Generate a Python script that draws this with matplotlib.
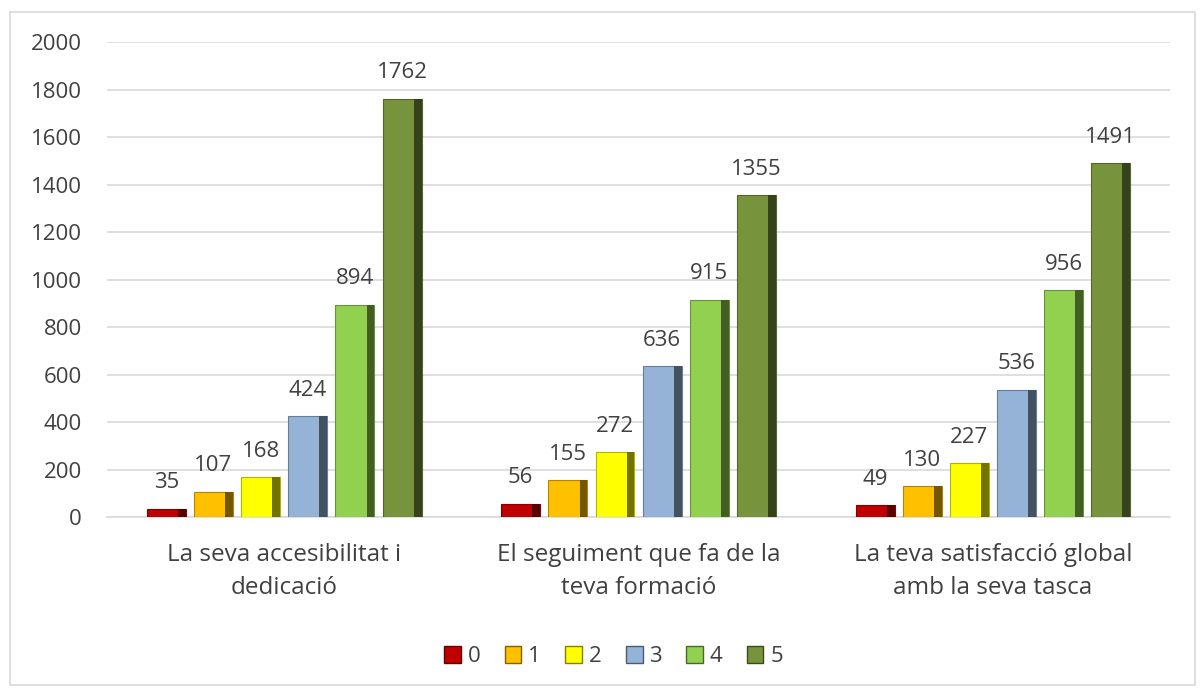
import numpy as np
import matplotlib.pyplot as plt
from matplotlib.patches import Patch, Rectangle
from matplotlib.colors import to_rgb

# Categories and scores (0-5) per question
categories = ["La seva accesibilitat i\ndedicació",
              "El seguiment que fa de la\nteva formació",
              "La teva satisfacció global\namb la seva tasca"]
series_names = ["0", "1", "2", "3", "4", "5"]
score_0 = [35, 56, 49]
score_1 = [107, 155, 130]
score_2 = [168, 272, 227]
score_3 = [424, 636, 536]
score_4 = [894, 915, 956]
score_5 = [1762, 1355, 1491]
y_ticks = [0, 200, 400, 600, 800, 1000, 1200, 1400, 1600, 1800, 2000]

series = [score_0, score_1, score_2, score_3, score_4, score_5]
colors = ["#C00000", "#FFC000", "#FFFF00", "#95B3D7", "#92D050", "#77933C"]
text_color = "#404040"

plt.rcParams['font.family'] = ['Open Sans', 'DejaVu Sans']

fig = plt.figure(figsize=(12.03, 6.9), dpi=100)
ax = fig.add_axes([0.089, 0.2507, 0.8836, 0.6884])

# outer light frame like the spreadsheet chart area
fig.patches.append(Rectangle((0.008, 0.007), 0.985, 0.976, transform=fig.transFigure,
                             fill=False, edgecolor="#D9D9D9", linewidth=1.2))

x = np.arange(len(categories))
step = 0.133
width = 0.11


def shade(c, f):
    r, g, b = to_rgb(c)
    return (r * f, g * f, b * f)


for i, (vals, col) in enumerate(zip(series, colors)):
    pos = x + (i - 2.5) * step
    ax.bar(pos, vals, width=width, color=col, edgecolor=shade(col, 0.7),
           linewidth=0.8, zorder=3)
    # darker right side for the bevel look
    ax.bar(pos + width * 0.4, vals, width=width * 0.2, color=shade(col, 0.45),
           linewidth=0, zorder=4)
    for p, v in zip(pos, vals):
        ax.annotate(str(v), (p, v), xytext=(0, 11), textcoords="offset points",
                    ha="center", va="bottom", fontsize=16, color=text_color)

ax.set_xlim(-0.5, 2.5)
ax.set_ylim(0, 2000)
ax.set_yticks(y_ticks)
ax.set_xticks(x)
ax.set_xticklabels(categories, fontsize=17.5, color=text_color, linespacing=1.45)
ax.tick_params(axis="y", labelsize=16, labelcolor=text_color, length=0, pad=18)
ax.tick_params(axis="x", length=0, pad=19)
ax.grid(axis="y", color="#D9D9D9", linewidth=1.2, zorder=0)
for s in ["top", "right", "left"]:
    ax.spines[s].set_visible(False)
ax.spines["bottom"].set_color("#D9D9D9")
ax.spines["bottom"].set_linewidth(1.2)

handles = [Patch(facecolor=c, edgecolor=shade(c, 0.5), label=n)
           for c, n in zip(colors, series_names)]
fig.legend(handles=handles, loc="center", bbox_to_anchor=(0.51, 0.048), ncol=6,
           frameon=False, fontsize=16, handlelength=0.75, handleheight=0.75,
           handletextpad=0.3, columnspacing=1.1, labelcolor=text_color)

plt.savefig("out.png", dpi=100)
